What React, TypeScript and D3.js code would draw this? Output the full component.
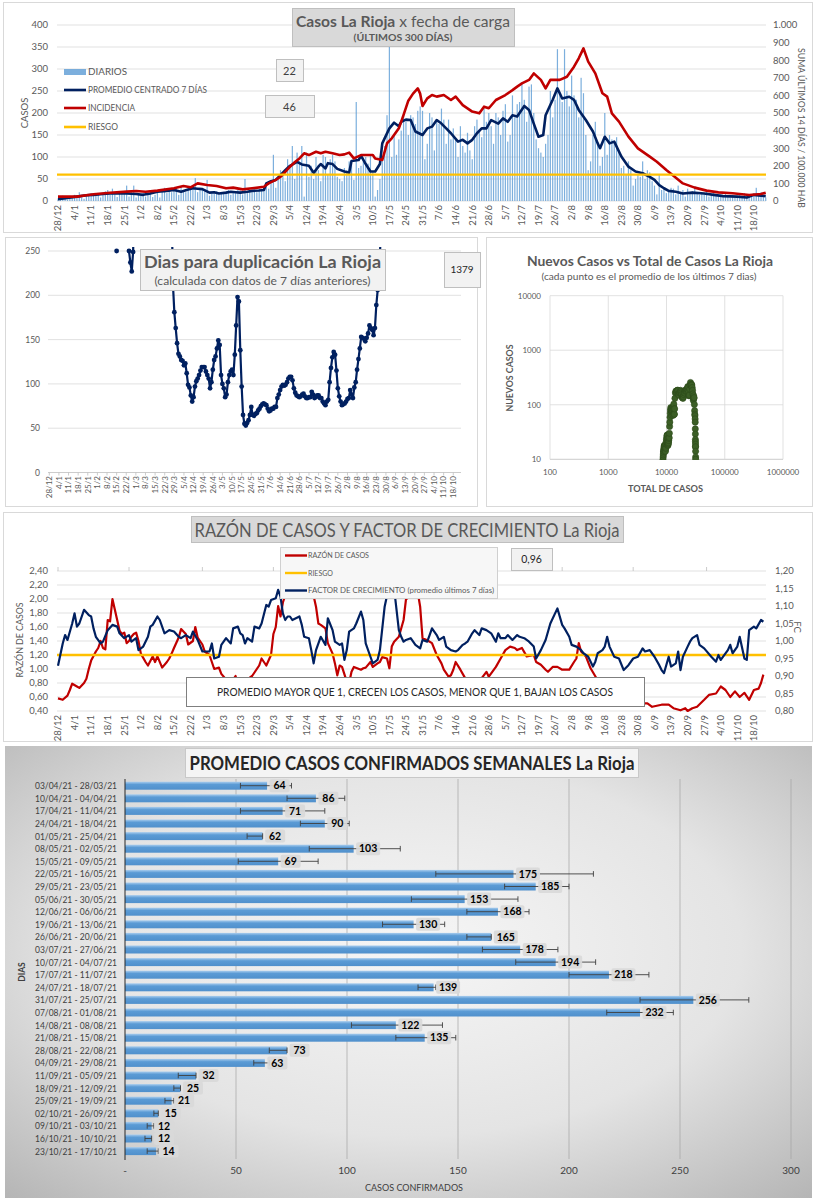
import React from "react";
import * as d3 from "d3";

type P = [number, number];

// ---------------- shared ----------------
const weekTickLabels = ["28/12","4/1","11/1","18/1","25/1","1/2","8/2","15/2","22/2","1/3","8/3","15/3","22/3","29/3","5/4","12/4","19/4","26/4","3/5","10/5","17/5","24/5","31/5","7/6","14/6","21/6","28/6","5/7","12/7","19/7","26/7","2/8","9/8","16/8","23/8","30/8","6/9","13/9","20/9","27/9","4/10","11/10","18/10"];
const monthTickDays = [0, 30, 61, 91, 122, 152, 183, 213, 243, 274];

// ---------------- panel 1: daily cases ----------------
const dailyCases = [
  4,9,12,6,3,8,11, 14,10,20,8,5,12,15, 18,12,15,16,8,14,22, 25,14,28,15,9,20,18,
  22,35,10,20,35,8,15, 12,18,10,15,20,9,14, 25,8,22,30,18,24,20, 28,30,14,32,25,20,28,
  30,25,52,20,30,28,22, 48,12,20,18,22,15,20, 18,22,25,14,20,18,26, 24,15,50,18,22,20,25,
  20,28,24,30,35,28,40, 105,30,55,70,60,45,95, 80,125,50,110,90,125,10, 110,55,80,50,100,70,45,
  105,100,60,95,105,90,55, 50,45,75,70,90,85,48, 225,75,80,90,100,85,105, 65,10,25,50,100,125,195,
  420,100,150,105,140,160,200, 180,150,195,190,175,205,215, 205,95,130,200,190,115,185, 175,210,185,130,185,140,165,
  140,100,170,125,110,155,115, 95,170,185,160,145,210,180, 200,170,130,200,190,150,205, 220,135,150,240,190,220,225,
  270,230,180,260,265,200,140, 120,110,100,130,150,250,190, 230,345,240,225,345,250,215, 285,240,230,190,280,245,150,
  70,90,150,180,130,80,100, 200,105,150,140,135,145,110, 75,80,60,90,70,35,50, 60,55,90,50,70,65,45,
  35,15,60,25,30,18,22, 30,28,15,35,20,25,10, 28,18,22,34,20,14,18, 18,22,10,12,20,14,10,
  15,10,18,12,8,14,9, 10,14,12,18,8,10,12, 12,30,15,20,12,8
];
const avgCentered: P[] = [[0,4],[4,7],[8,10],[12,13],[15,14],[19,16],[22,17],[26,18],[29,17],[33,16],[36,14],[39,17],[42,21],[46,23],[49,25],[52,21],[55,26],[57,29],[59,28],[61,27],[64,19],[66,20],[68,17],[71,19],[73,21],[75,20],[77,19],[80,21],[82,23],[85,24],[87,25],[88,40],[90,45],[92,48],[94,59],[96,70],[98,80],[101,89],[103,83],[106,80],[108,64],[110,78],[111,84],[113,74],[114,86],[116,84],[118,73],[121,67],[123,64],[124,91],[127,93],[128,103],[130,84],[132,67],[134,67],[136,84],[137,131],[140,165],[142,178],[144,170],[145,180],[147,185],[149,184],[151,158],[154,150],[156,165],[158,169],[160,184],[162,176],[164,165],[166,154],[169,135],[171,139],[173,131],[175,139],[177,154],[179,165],[181,165],[183,184],[186,176],[188,188],[190,180],[192,195],[194,192],[197,216],[199,207],[201,176],[203,146],[205,150],[206,195],[209,230],[211,256],[213,233],[216,237],[218,230],[220,207],[223,184],[226,158],[228,131],[229,120],[231,146],[233,131],[235,135],[238,101],[241,78],[244,67],[247,63],[250,55],[252,48],[254,36],[256,29],[258,23],[261,21],[264,17],[268,19],[273,17],[277,14],[281,11],[287,10],[291,8],[294,14],[297,12],[299,11]];
const incidence14d: P[] = [[0,25],[8,25],[15,38],[22,47],[29,53],[33,57],[37,53],[42,59],[49,72],[53,85],[56,78],[59,100],[63,91],[67,85],[71,72],[74,76],[78,66],[82,72],[87,81],[89,100],[92,120],[94,138],[96,165],[98,195],[100,220],[102,242],[104,271],[106,261],[109,280],[111,271],[113,280],[116,271],[119,261],[121,265],[123,275],[125,242],[128,261],[130,261],[133,261],[134,242],[137,233],[139,328],[141,356],[144,413],[146,489],[148,570],[150,610],[152,640],[153,610],[154,540],[156,583],[158,602],[160,593],[163,602],[166,574],[168,593],[171,545],[175,508],[178,498],[180,536],[182,527],[185,574],[189,602],[192,630],[194,650],[196,668],[199,688],[201,725],[204,688],[206,640],[208,688],[212,688],[215,706],[218,763],[220,811],[222,867],[224,792],[227,725],[230,612],[232,593],[234,498],[237,451],[241,366],[245,299],[250,252],[253,223],[257,176],[260,144],[264,100],[269,76],[274,59],[279,49],[285,44],[292,34],[297,40],[299,47]];
const riskCases = 60;
const boxLastDay = "22";
const boxLastAvg = "46";

// ---------------- panel 2: doubling days ----------------
const doublingDays: [number, number | null][] = [[48,null],[49,250],[50,null],[58,250],[59,237],[60,227],[61,249],[62,320],[63,null],[89,300],[90,212],[91,181],[92,163],[93,146],[94,134],[95,131],[96,127],[97,126],[98,121],[99,123],[100,112],[101,99],[102,96],[103,87],[104,80],[105,85],[106,97],[107,103],[108,106],[109,110],[110,115],[111,119],[112,119],[113,119],[114,114],[115,110],[116,106],[117,95],[118,102],[119,116],[120,127],[121,131],[122,140],[123,149],[124,144],[125,110],[126,100],[127,95],[128,85],[129,88],[130,102],[131,110],[132,114],[133,116],[134,110],[135,133],[136,166],[137,198],[138,193],[139,138],[140,97],[141,65],[142,55],[143,53],[144,56],[145,59],[146,65],[147,74],[148,65],[149,64],[150,66],[151,67],[152,70],[153,72],[154,75],[155,77],[156,78],[157,77],[158,76],[159,72],[160,69],[161,70],[162,72],[163,72],[164,74],[165,74],[166,84],[167,88],[168,93],[169,97],[170,99],[171,98],[172,99],[173,102],[174,106],[175,108],[176,108],[177,104],[178,95],[179,90],[180,87],[181,86],[182,85],[183,86],[184,88],[185,89],[186,86],[187,84],[188,84],[189,85],[190,85],[191,91],[192,88],[193,84],[194,85],[195,87],[196,87],[197,84],[198,84],[199,80],[200,78],[201,76],[202,80],[203,82],[204,102],[205,118],[206,130],[207,136],[208,133],[209,115],[210,95],[211,86],[212,80],[213,76],[214,77],[215,78],[216,80],[217,83],[218,84],[219,93],[220,88],[221,84],[222,96],[223,102],[224,116],[225,128],[226,140],[227,153],[228,152],[229,151],[230,148],[231,152],[232,157],[233,166],[234,163],[235,161],[236,155],[237,163],[238,189],[239,206],[240,223],[241,260]];
const doublingNow = "1379";

// ---------------- panel 3: new vs total ----------------
const newVsTotal: P[] = [[8700,10],[8750,11],[8800,12],[8850,13],[8900,14],[8950,14],[9000,15],[9050,16],[9100,17],[9200,18],[9300,18],[9400,17],[9500,16],[9550,15],[9600,14],[9700,16],[9800,19],[9900,21],[10000,23],[10100,25],[10200,27],[10300,28],[10350,27],[10400,24],[10450,20],[10500,19],[10600,18],[10650,19],[10700,21],[10800,20],[10900,22],[11000,24],[11100,25],[11200,30],[11300,40],[11400,48],[11500,59],[11600,70],[11700,80],[11850,89],[12000,83],[12100,80],[12200,64],[12300,78],[12400,84],[12500,74],[12600,86],[12700,84],[12800,73],[12900,67],[13000,64],[13100,91],[13250,93],[13350,103],[13450,84],[13550,67],[13650,67],[13800,84],[13950,131],[14200,165],[14500,178],[14800,170],[15000,180],[15400,185],[15800,184],[16100,158],[16400,150],[16700,165],[17000,169],[17400,184],[17700,176],[18000,165],[18300,154],[18600,135],[18900,139],[19200,131],[19500,139],[19800,154],[20100,165],[20500,165],[20900,184],[21300,176],[21700,188],[22000,180],[22400,195],[22800,192],[23200,216],[23600,207],[24000,176],[24300,146],[24600,150],[24900,195],[25300,230],[25800,256],[26300,233],[26800,237],[27200,230],[27600,207],[28000,184],[28400,158],[28700,131],[28900,120],[29200,146],[29500,131],[29800,135],[30100,101],[30400,78],[30600,67],[30800,63],[31000,55],[31100,48],[31200,36],[31300,29],[31350,23],[31400,21],[31450,17],[31500,19],[31550,17],[31600,14],[31650,11],[31700,10]];
const logTicksX = [100, 1000, 10000, 100000, 1000000];
const logTicksY = [10, 100, 1000, 10000];

// ---------------- panel 4: ratio & growth factor ----------------
const caseRatio: P[] = [[0,0.58],[2,0.56],[4,0.62],[5,0.7],[6,0.79],[8,0.75],[9,0.73],[11,0.8],[12,0.86],[13,1.0],[14,1.12],[16,1.25],[17,1.3],[18,1.4],[19,1.3],[20,1.28],[21,1.7],[22,1.68],[23,2.0],[25,1.7],[26,1.55],[27,1.5],[28,1.52],[29,1.37],[30,1.4],[31,1.46],[32,1.5],[33,1.52],[34,1.4],[35,1.22],[37,1.1],[38,1.05],[40,1.18],[41,1.1],[42,1.18],[44,1.02],[46,1.1],[47,1.15],[48,1.22],[49,1.3],[51,1.45],[52,1.57],[54,1.5],[55,1.35],[57,1.4],[58,1.6],[59,1.45],[61,1.35],[62,1.25],[64,1.2],[65,1.1],[66,1.0],[68,1.02],[69,0.93],[71,0.85],[72,0.75],[73,0.8],[75,0.9],[76,0.8],[78,0.75],[80,0.85],[82,0.9],[83,0.95],[85,1.05],[86,1.15],[87,1.1],[88,1.05],[90,1.2],[91,1.5],[92,1.6],[93,1.9],[94,1.75],[95,1.95],[96,2.05],[98,2.3],[99,2.45],[101,2.6],[103,2.5],[105,2.4],[107,2.2],[109,1.89],[110,1.65],[111,1.63],[113,1.58],[114,1.37],[116,1.22],[117,1.08],[118,0.91],[119,1.05],[120,1.03],[122,0.82],[123,0.8],[124,0.96],[125,1.03],[128,0.99],[129,1.01],[130,1.02],[132,1.1],[133,1.03],[135,1.08],[136,1.1],[137,1.17],[139,1.15],[140,1.01],[141,1.32],[142,1.39],[144,1.46],[146,1.7],[147,1.99],[148,2.03],[149,2.2],[150,2.45],[151,2.3],[153,1.89],[154,1.44],[156,1.41],[158,1.37],[160,1.2],[162,1.08],[163,0.99],[165,0.89],[166,0.91],[167,0.99],[168,1.1],[170,0.99],[172,0.87],[175,0.84],[177,0.8],[179,0.87],[181,0.96],[182,0.89],[185,1.03],[187,1.15],[189,1.27],[191,1.32],[193,1.3],[194,1.27],[196,1.3],[198,1.18],[201,1.2],[202,1.1],[204,1.06],[206,0.99],[207,0.96],[209,1.03],[211,1.03],[213,0.99],[216,0.99],[218,1.1],[219,1.15],[220,1.37],[221,1.25],[223,1.18],[225,1.01],[228,0.84],[231,0.72],[233,0.63],[235,0.53],[237,0.58],[240,0.56],[242,0.56],[244,0.51],[247,0.51],[249,0.51],[251,0.46],[255,0.49],[258,0.49],[260,0.44],[263,0.41],[265,0.44],[266,0.4],[268,0.44],[270,0.46],[273,0.56],[275,0.63],[278,0.65],[280,0.75],[282,0.7],[284,0.6],[286,0.68],[288,0.6],[290,0.66],[292,0.56],[294,0.7],[296,0.72],[297,0.8],[298,0.92]];
const growthFactor: P[] = [[0,0.929],[2,0.993],[3,1.017],[4,1.003],[6,1.05],[7,1.079],[8,1.041],[9,1.05],[11,1.089],[13,1.074],[14,1.07],[15,1.036],[16,1.012],[18,0.993],[19,0.998],[21,1.031],[23,1.046],[25,1.041],[26,1.022],[28,1.008],[30,1.017],[31,0.998],[33,1.008],[34,0.974],[36,0.984],[38,1.012],[39,1.041],[40,1.046],[42,1.07],[43,1.06],[45,1.022],[47,1.031],[49,1.027],[51,1.012],[52,1.008],[54,1.017],[56,1.008],[57,1.027],[59,1.003],[61,0.97],[62,0.97],[64,0.97],[65,0.993],[66,0.95],[68,0.955],[69,0.989],[71,1.008],[73,0.993],[74,1.036],[76,1.041],[77,1.022],[78,1.017],[79,0.993],[80,1.008],[82,0.998],[83,1.041],[85,1.036],[86,1.05],[88,1.103],[89,1.098],[90,1.117],[92,1.122],[93,1.146],[94,1.127],[95,1.079],[96,1.06],[97,1.07],[98,1.07],[99,1.06],[102,1.07],[103,1.046],[104,1.012],[106,1.008],[107,0.974],[108,0.936],[109,0.974],[111,1.012],[113,0.989],[114,1.065],[116,1.031],[117,0.998],[119,0.989],[120,0.993],[121,0.946],[122,0.974],[123,1.027],[125,1.036],[126,1.05],[128,1.084],[129,1.06],[130,0.993],[132,0.955],[133,0.936],[135,0.946],[136,0.974],[138,1.098],[139,1.13],[140,1.155],[142,1.15],[144,1.031],[145,1.012],[146,0.998],[147,1.003],[149,1.008],[151,0.989],[153,0.979],[154,1.003],[156,0.998],[157,1.017],[158,1.036],[160,1.017],[161,1.003],[163,1.012],[164,0.984],[166,0.974],[168,0.97],[169,0.974],[171,0.989],[172,0.993],[173,0.998],[175,1.022],[176,1.031],[178,1.017],[179,1.036],[181,1.031],[183,1.022],[185,0.998],[186,1.022],[187,1.008],[189,1.008],[190,1.017],[192,1.003],[194,1.017],[195,1.012],[197,1.008],[199,0.998],[201,0.984],[202,0.95],[204,0.974],[206,1.003],[208,1.05],[210,1.079],[211,1.093],[213,1.046],[214,1.036],[216,1.012],[217,0.989],[219,0.984],[221,0.974],[222,0.965],[224,0.955],[226,0.927],[227,0.941],[228,0.965],[230,0.974],[231,0.984],[232,1.012],[233,0.984],[235,0.955],[237,0.95],[239,0.917],[241,0.931],[243,0.95],[245,0.955],[247,0.979],[248,0.97],[250,0.974],[252,0.955],[254,0.931],[255,0.917],[256,0.908],[258,0.955],[259,0.927],[261,0.936],[262,0.97],[263,0.917],[264,0.955],[266,0.984],[267,0.998],[268,1.008],[270,1.017],[271,0.989],[273,0.979],[276,0.955],[278,0.941],[279,0.96],[280,0.946],[283,0.974],[284,0.989],[285,0.965],[287,0.984],[288,1.012],[290,0.95],[291,0.946],[292,1.031],[294,1.041],[295,1.036],[297,1.06],[298,1.055]];
const riskRatio = 1.2;
const fcNow = "0,96";

// ---------------- panel 5: weekly averages ----------------
const weekRanges = ["03/04/21 - 28/03/21","10/04/21 - 04/04/21","17/04/21 - 11/04/21","24/04/21 - 18/04/21","01/05/21 - 25/04/21","08/05/21 - 02/05/21","15/05/21 - 09/05/21","22/05/21 - 16/05/21","29/05/21 - 23/05/21","05/06/21 - 30/05/21","12/06/21 - 06/06/21","19/06/21 - 13/06/21","26/06/21 - 20/06/21","03/07/21 - 27/06/21","10/07/21 - 04/07/21","17/07/21 - 11/07/21","24/07/21 - 18/07/21","31/07/21 - 25/07/21","07/08/21 - 01/08/21","14/08/21 - 08/08/21","21/08/21 - 15/08/21","28/08/21 - 22/08/21","04/09/21 - 29/08/21","11/09/21 - 05/09/21","18/09/21 - 12/09/21","25/09/21 - 19/09/21","02/10/21 - 26/09/21","09/10/21 - 03/10/21","16/10/21 - 10/10/21","23/10/21 - 17/10/21"];
const weekAvg = [64,86,71,90,62,103,69,175,185,153,168,130,165,178,194,218,139,256,232,122,135,73,63,32,25,21,15,12,12,14];
const weekErrLo = [52,73,52,79,55,83,51,140,171,129,154,116,154,161,176,200,132,232,217,102,122,65,58,24,22,18,13,10,9,10];
const weekErrHi = [75,99,90,101,62,124,87,211,200,177,182,144,165,195,212,236,140,281,247,143,149,73,65,32,25,22,15,13,12,15];
const barTicks = [0, 50, 100, 150, 200, 250, 300];
const barTickLabels = ["-", "50", "100", "150", "200", "250", "300"];

// ---------------- styling ----------------
const F = "Lato, 'Open Sans', sans-serif";
const FN = "'Liberation Sans Narrow', 'Arial Narrow', Lato, sans-serif";
const NAVY = "#002060", RED = "#c00000", ORANGE = "#ffc000", BLUE = "#5b9bd5", GRID = "#d9d9d9", TXT = "#595959";
const es = d3.formatLocale({ decimal: ",", thousands: ".", grouping: [3], currency: ["", ""] });
const fmtTh = es.format(",");
const fmt2 = es.format(".2f");

function T(p: any) {
  const { x, y, children, size = 9, anchor = "start", weight = 400, fill = TXT, len, rot, family = F } = p;
  const extra: any = {};
  if (len) { extra.textLength = len; extra.lengthAdjust = "spacingAndGlyphs"; }
  return (
    <text x={rot !== undefined ? 0 : x} y={rot !== undefined ? 0 : y}
      transform={rot !== undefined ? `translate(${x},${y}) rotate(${rot})` : undefined}
      fontSize={size} textAnchor={anchor} fontWeight={weight} fill={fill} fontFamily={family} {...extra}>
      {children}
    </text>
  );
}

function Box(p: any) {
  const { x, y, w, h, fill = "#f2f2f2", stroke = "#bfbfbf" } = p;
  return <rect x={x + 0.5} y={y + 0.5} width={w} height={h} fill={fill} stroke={stroke} strokeWidth={1} />;
}

const xDay = d3.scaleLinear().domain([0, 299]).range([58, 58 + 299 * 2.367]);

function DateLabels({ x, y, size = 9.5 }: any) {
  return (
    <g>
      {weekTickLabels.map((l, i) => (
        <T key={l} x={x(i * 7) + size * 0.35} y={y} rot={-90} anchor="end" size={size}>{l}</T>
      ))}
    </g>
  );
}

function Panel1() {
  const yL = d3.scaleLinear().domain([0, 400]).range([201, 25]);
  const yR = d3.scaleLinear().domain([0, 1000]).range([201, 25]);
  const lineL = d3.line<P>().x(d => xDay(d[0])).y(d => yL(d[1]));
  const lineR = d3.line<P>().x(d => xDay(d[0])).y(d => yR(d[1]));
  return (
    <g>
      <Box x={3} y={2} w={809} h={230} fill="#fff" stroke="#d9d9d9" />
      <clipPath id="c1"><rect x={56} y={25} width={712} height={177} /></clipPath>
      {yL.ticks(8).map(t => (
        <g key={t}>
          <line x1={57} x2={766} y1={yL(t)} y2={yL(t)} stroke={GRID} strokeWidth={0.8} />
          <T x={48} y={yL(t) + 3.3} anchor="end" size={9.5}>{t}</T>
        </g>
      ))}
      {yR.ticks(10).map(t => <T key={t} x={773} y={yR(t) + 3.3} size={9.5}>{fmtTh(t)}</T>)}
      <g clipPath="url(#c1)">
        {dailyCases.map((v, i) => (
          <rect key={i} x={xDay(i) - 0.6} width={1.2} y={yL(v)} height={yL(0) - yL(v)} fill={BLUE} opacity={0.8} />
        ))}
        <path d={lineL(avgCentered) || ""} fill="none" stroke={NAVY} strokeWidth={2.6} strokeLinejoin="round" />
        <path d={lineR(incidence14d) || ""} fill="none" stroke={RED} strokeWidth={2.6} strokeLinejoin="round" />
        <line x1={57} x2={766} y1={yL(riskCases)} y2={yL(riskCases)} stroke={ORANGE} strokeWidth={2.2} />
      </g>
      <DateLabels x={xDay} y={205} />
      <T x={28} y={113} rot={-90} anchor="middle" size={9.5}>CASOS</T>
      <T x={798} y={128} rot={90} anchor="middle" size={9.5} len={160}>SUMA  ÚLTIMOS 14 DÍAS / 100.000 HAB</T>
      {/* legend */}
      <rect x={64} y={69} width={22} height={6} fill={BLUE} opacity={0.8} />
      <T x={88} y={75} size={9} len={39}>DIARIOS</T>
      <line x1={64} x2={86} y1={90} y2={90} stroke={NAVY} strokeWidth={2.6} />
      <T x={88} y={93} size={9} len={119}>PROMEDIO CENTRADO 7 DÍAS</T>
      <line x1={64} x2={86} y1={108} y2={108} stroke={RED} strokeWidth={2.6} />
      <T x={88} y={111} size={9} len={47}>INCIDENCIA</T>
      <line x1={64} x2={86} y1={127} y2={127} stroke={ORANGE} strokeWidth={2.6} />
      <T x={88} y={130} size={9} len={30}>RIESGO</T>
      <Box x={276} y={59} w={27} h={22} />
      <T x={289.5} y={74.5} anchor="middle" size={11} fill="#404040">{boxLastDay}</T>
      <Box x={265} y={95} w={49} h={22} />
      <T x={289.5} y={110.5} anchor="middle" size={11} fill="#404040">{boxLastAvg}</T>
      {/* title */}
      <Box x={292} y={8} w={222} h={38} fill="#d9d9d9" stroke="#bfbfbf" />
      <text x={403} y={27} fontSize={16} textAnchor="middle" fill={TXT} fontFamily={F} textLength={214} lengthAdjust="spacingAndGlyphs">
        <tspan fontWeight={700}>Casos La Rioja</tspan><tspan> x fecha de carga</tspan>
      </text>
      <T x={403} y={41} anchor="middle" size={9.5} weight={700} len={99}>(ÚLTIMOS 300 DÍAS)</T>
    </g>
  );
}

function Panel2() {
  const x = d3.scaleLinear().domain([0, 299]).range([49.3, 49.3 + 299 * 1.374]);
  const y = d3.scaleLinear().domain([0, 250]).range([472.5, 251]);
  const line = d3.line<[number, number | null]>().defined(d => d[1] !== null).x(d => x(d[0])).y(d => y(d[1] as number));
  const pts = doublingDays.filter(d => d[1] !== null) as P[];
  return (
    <g>
      <Box x={5} y={237} w={472} h={269} fill="#fff" stroke="#d9d9d9" />
      <clipPath id="c2"><rect x={46} y={247} width={418} height={228} /></clipPath>
      {y.ticks(5).map(t => (
        <g key={t}>
          {t > 0 && <line x1={48} x2={461} y1={y(t)} y2={y(t)} stroke={GRID} strokeWidth={0.8} />}
          <T x={40} y={y(t) + 3} anchor="end" size={8.5}>{t}</T>
        </g>
      ))}
      <line x1={48} x2={461} y1={y(0)} y2={y(0)} stroke="#bfbfbf" strokeWidth={0.8} />
      {weekTickLabels.map((l, i) => (
        <line key={l} x1={x(i * 7)} x2={x(i * 7)} y1={y(0)} y2={y(0) + 3} stroke="#bfbfbf" strokeWidth={0.8} />
      ))}
      <DateLabels x={x} y={476} size={8} />
      <g clipPath="url(#c2)">
        <path d={line(doublingDays) || ""} fill="none" stroke={NAVY} strokeWidth={2.2} strokeLinejoin="round" />
        {pts.map((d, i) => <circle key={i} cx={x(d[0])} cy={y(d[1])} r={2.4} fill={NAVY} />)}
      </g>
      <Box x={140} y={249} w={245} h={41} />
      <T x={262.5} y={268} anchor="middle" size={17.5} weight={700} len={237}>Dias para duplicación La Rioja</T>
      <T x={262.5} y={285} anchor="middle" size={10.5} len={216}>(calculada con datos de 7 días anteriores)</T>
      <Box x={444} y={252} w={36} h={35} />
      <T x={462} y={273} anchor="middle" size={10} fill="#262626">{doublingNow}</T>
    </g>
  );
}

function Panel3() {
  const x = d3.scaleLog().domain([100, 1000000]).range([550, 783]);
  const y = d3.scaleLog().domain([10, 10000]).range([459.3, 295.7]);
  return (
    <g>
      <Box x={486} y={237} w={326} h={269} fill="#fff" stroke="#d9d9d9" />
      <clipPath id="c3"><rect x={548} y={294} width={237} height={166} /></clipPath>
      {logTicksY.map(t => (
        <g key={t}>
          <line x1={550} x2={783} y1={y(t)} y2={y(t)} stroke={t === 10 ? "#bfbfbf" : GRID} strokeWidth={0.8} />
          <T x={541} y={y(t) + 3} anchor="end" size={8}>{t}</T>
        </g>
      ))}
      {logTicksX.map(t => (
        <g key={t}>
          <line x1={x(t)} x2={x(t)} y1={295.7} y2={459.3} stroke={GRID} strokeWidth={0.8} />
          <T x={x(t)} y={475} anchor="middle" size={8}>{t}</T>
        </g>
      ))}
      <g clipPath="url(#c3)">
        {newVsTotal.map((d, i) => (
          <circle key={i} cx={x(d[0])} cy={y(d[1])} r={3.1} fill="#3b5e26" stroke="#2b4a1a" strokeWidth={0.6} />
        ))}
      </g>
      <T x={650} y={266} anchor="middle" size={14} weight={700} len={246}>Nuevos Casos vs Total de Casos La Rioja</T>
      <T x={649} y={280} anchor="middle" size={9.5} len={215}>(cada punto es el promedio de los últimos 7 dias)</T>
      <T x={513} y={378} rot={-90} anchor="middle" size={9} weight={700} len={67}>NUEVOS  CASOS</T>
      <T x={665.5} y={492} anchor="middle" size={9} weight={700} len={75}>TOTAL DE CASOS</T>
    </g>
  );
}

function Panel4() {
  const yL = d3.scaleLinear().domain([0.4, 2.4]).range([711, 571]);
  const yR = d3.scaleLinear().domain([0.8, 1.2]).range([711, 571]);
  const lineL = d3.line<P>().x(d => xDay(d[0])).y(d => yL(d[1]));
  const lineR = d3.line<P>().x(d => xDay(d[0])).y(d => yR(d[1]));
  const leftTicks = d3.range(0, 11).map(i => 0.4 + i * 0.2);
  const rightTicks = d3.range(0, 9).map(i => 0.8 + i * 0.05);
  return (
    <g>
      <Box x={3} y={512} w={809} h={229} fill="#fff" stroke="#d9d9d9" />
      <clipPath id="c4"><rect x={56} y={570} width={712} height={142} /></clipPath>
      {leftTicks.map(t => (
        <g key={t}>
          <line x1={57} x2={766} y1={yL(t)} y2={yL(t)} stroke={GRID} strokeWidth={0.8} />
          <T x={48} y={yL(t) + 3.3} anchor="end" size={9.5}>{fmt2(t)}</T>
        </g>
      ))}
      {monthTickDays.map(d => <line key={d} x1={xDay(d)} x2={xDay(d)} y1={571} y2={567} stroke="#bfbfbf" strokeWidth={0.8} />)}
      {rightTicks.map(t => <T key={t} x={775} y={yR(t) + 3.3} size={9.5}>{fmt2(t)}</T>)}
      <g clipPath="url(#c4)">
        <path d={lineL(caseRatio) || ""} fill="none" stroke={RED} strokeWidth={2.2} strokeLinejoin="round" />
        <line x1={57} x2={766} y1={yL(riskRatio)} y2={yL(riskRatio)} stroke={ORANGE} strokeWidth={2.4} />
        <path d={lineR(growthFactor) || ""} fill="none" stroke={NAVY} strokeWidth={2.2} strokeLinejoin="round" />
      </g>
      <DateLabels x={xDay} y={715} />
      <T x={23} y={640} rot={-90} anchor="middle" size={9.5} len={75}>RAZÓN  DE CASOS</T>
      <T x={794} y={627} rot={90} anchor="middle" size={9.5}>FC</T>
      <Box x={191} y={516} w={432} h={26} fill="#d9d9d9" />
      <T x={407} y={537} anchor="middle" size={20} len={425}>RAZÓN DE CASOS Y FACTOR DE CRECIMIENTO La Rioja</T>
      <Box x={280} y={547} w={217} h={51} fill="#f7f7f7" stroke="#d0d0d0" />
      <line x1={285} x2={307} y1={555.5} y2={555.5} stroke={RED} strokeWidth={2.4} />
      <T x={308} y={558} size={7.5} len={61}>RAZÓN DE CASOS</T>
      <line x1={285} x2={307} y1={573} y2={573} stroke={ORANGE} strokeWidth={2.4} />
      <T x={308} y={575.5} size={7.5} len={25}>RIESGO</T>
      <line x1={285} x2={307} y1={590.5} y2={590.5} stroke={NAVY} strokeWidth={2.4} />
      <T x={308} y={593} size={7.5} len={186}>FACTOR DE CRECIMIENTO (promedio últimos 7 días)</T>
      <Box x={511} y={548} w={41} h={22} />
      <T x={531.5} y={563} anchor="middle" size={10.5} fill="#262626">{fcNow}</T>
      <Box x={186} y={677} w={458} h={29} fill="#fff" stroke="#7f7f7f" />
      <T x={415} y={695.5} anchor="middle" size={11.5} fill="#262626" len={396}>PROMEDIO MAYOR QUE 1, CRECEN LOS CASOS, MENOR QUE 1, BAJAN LOS CASOS</T>
    </g>
  );
}

function Panel5() {
  const x = d3.scaleLinear().domain([0, 300]).range([125, 791]);
  const y = d3.scaleBand<string>().domain(weekRanges).range([779.4, 1157.4]).paddingInner(0.365).paddingOuter(0.1825);
  const bw = y.bandwidth();
  return (
    <g>
      <defs>
        <radialGradient id="bg5" cx="50%" cy="45%" r="75%">
          <stop offset="0%" stopColor="#f6f6f6" />
          <stop offset="55%" stopColor="#e4e4e4" />
          <stop offset="100%" stopColor="#b4b4b4" />
        </radialGradient>
        <linearGradient id="bar5" x1="0" x2="0" y1="0" y2="1">
          <stop offset="0%" stopColor="#a9cdee" />
          <stop offset="35%" stopColor="#5b9bd5" />
          <stop offset="100%" stopColor="#5090cc" />
        </linearGradient>
      </defs>
      <rect x={5} y={746} width={807} height={452} fill="url(#bg5)" />
      {barTicks.map((t, i) => (
        <g key={t}>
          {t > 0 && <line x1={x(t)} x2={x(t)} y1={779} y2={1159} stroke="#a3a3a3" strokeWidth={0.7} />}
          <T x={x(t)} y={1174} anchor="middle" size={10} family={FN} fill="#404040">{barTickLabels[i]}</T>
        </g>
      ))}
      {weekRanges.map((w, i) => {
        const yc = (y(w) as number) + bw / 2;
        const end = x(weekAvg[i]);
        const lbl = String(weekAvg[i]);
        const lw = lbl.length === 3 ? 24 : 20;
        return (
          <g key={w}>
            <T x={117} y={yc + 3.4} anchor="end" size={9.5} family={FN} fill="#404040" len={82}>{w}</T>
            <rect x={x(0)} y={y(w) as number} width={end - x(0)} height={bw} fill="url(#bar5)" />
            <line x1={x(weekErrLo[i])} x2={x(weekErrHi[i])} y1={yc} y2={yc} stroke="#404040" strokeWidth={0.9} />
            <line x1={x(weekErrLo[i])} x2={x(weekErrLo[i])} y1={yc - 2.8} y2={yc + 2.8} stroke="#404040" strokeWidth={0.9} />
            <line x1={x(weekErrHi[i])} x2={x(weekErrHi[i])} y1={yc - 2.8} y2={yc + 2.8} stroke="#404040" strokeWidth={0.9} />
            <rect x={end + 2.5} y={yc - 6.5} width={lw} height={13} rx={2} fill="#d9d9d9" opacity={0.92} />
            <T x={end + 2.5 + lw / 2} y={yc + 3.6} anchor="middle" size={10.5} weight={700} family={FN} fill="#000">{lbl}</T>
          </g>
        );
      })}
      <line x1={x(0)} x2={x(0)} y1={779} y2={1160} stroke="#262626" strokeWidth={1} />
      <T x={414} y={1191} anchor="middle" size={9} family={FN} fill="#404040">CASOS CONFIRMADOS</T>
      <T x={25} y={972} rot={-90} anchor="middle" size={8.5} weight={700} family={FN} fill="#404040">DIAS</T>
      <Box x={185} y={748} w={453} h={29} fill="#f4f4f4" stroke="#c8c8c8" />
      <T x={412} y={770} anchor="middle" size={18} weight={700} family={FN} fill="#262626" len={445}>PROMEDIO CASOS CONFIRMADOS SEMANALES La Rioja</T>
    </g>
  );
}

export default function App() {
  return (
    <svg width={816} height={1200} viewBox="0 0 816 1200" style={{ position: "absolute", left: 0, top: 0, background: "#fff" }}>
      <rect x={0} y={0} width={816} height={1200} fill="#fff" />
      <Panel1 />
      <Panel2 />
      <Panel3 />
      <Panel4 />
      <Panel5 />
    </svg>
  );
}
